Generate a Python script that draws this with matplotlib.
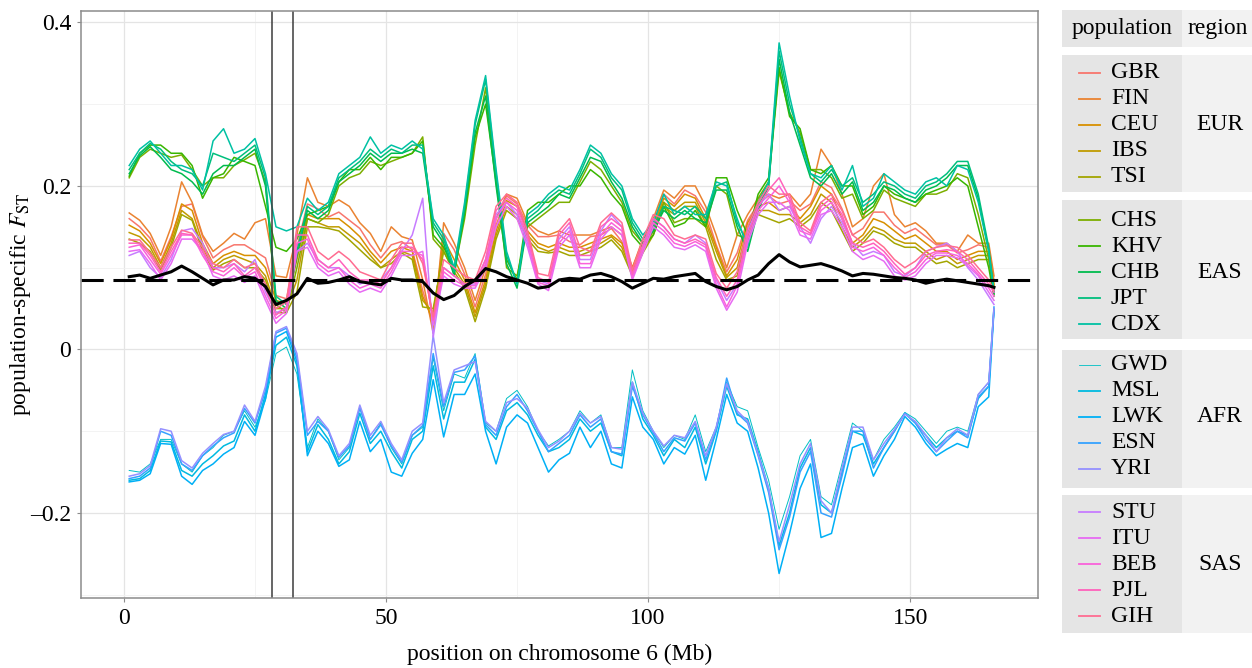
import matplotlib.pyplot as plt
from matplotlib.patches import Rectangle

plt.rcParams['font.family'] = 'Liberation Serif'
plt.rcParams['mathtext.fontset'] = 'stix'
plt.rcParams['lines.scale_dashes'] = False

# window centres along chromosome 6 (Mb)
pos_mb = [1, 3, 5, 7, 9, 11, 13, 15, 17, 19,
          21, 23, 25, 27, 29, 31, 33, 35, 37, 39,
          41, 43, 45, 47, 49, 51, 53, 55, 57, 59,
          61, 63, 65, 67, 69, 71, 73, 75, 77, 79,
          81, 83, 85, 87, 89, 91, 93, 95, 97, 99,
          101, 103, 105, 107, 109, 111, 113, 115, 117, 119,
          121, 123, 125, 127, 129, 131, 133, 135, 137, 139,
          141, 143, 145, 147, 149, 151, 153, 155, 157, 159,
          161, 163, 165, 166]

# EUR
gbr = [0.16, 0.15, 0.136, 0.108, 0.138, 0.175, 0.178, 0.138, 0.112, 0.122,
       0.128, 0.128, 0.12, 0.112, 0.066, 0.062, 0.125, 0.178, 0.172, 0.162,
       0.168, 0.158, 0.148, 0.128, 0.112, 0.128, 0.132, 0.122, 0.072, 0.03,
       0.142, 0.122, 0.092, 0.052, 0.092, 0.152, 0.188, 0.178, 0.152, 0.138,
       0.138, 0.14, 0.132, 0.128, 0.138, 0.14, 0.148, 0.132, 0.1, 0.13,
       0.152, 0.19, 0.178, 0.195, 0.188, 0.168, 0.128, 0.095, 0.118, 0.158,
       0.178, 0.188, 0.178, 0.182, 0.17, 0.178, 0.205, 0.198, 0.172, 0.14,
       0.148, 0.168, 0.168, 0.152, 0.142, 0.148, 0.138, 0.128, 0.128, 0.118,
       0.122, 0.128, 0.125, 0.085]
fin = [0.167, 0.158, 0.142, 0.115, 0.15, 0.205, 0.18, 0.14, 0.12, 0.13,
       0.142, 0.135, 0.155, 0.16, 0.09, 0.088, 0.14, 0.21, 0.18, 0.175,
       0.183, 0.175, 0.155, 0.142, 0.12, 0.15, 0.138, 0.134, 0.085, 0.02,
       0.155, 0.13, 0.1, 0.06, 0.1, 0.16, 0.19, 0.185, 0.155, 0.145,
       0.14, 0.145, 0.14, 0.14, 0.14, 0.145, 0.15, 0.14, 0.1, 0.135,
       0.16, 0.195, 0.185, 0.2, 0.2, 0.175, 0.14, 0.1, 0.14, 0.165,
       0.185, 0.19, 0.185, 0.19, 0.175, 0.19, 0.245, 0.225, 0.19, 0.15,
       0.16, 0.2, 0.215, 0.165, 0.15, 0.155, 0.145, 0.13, 0.13, 0.12,
       0.14, 0.13, 0.13, 0.09]
ceu = [0.152, 0.145, 0.13, 0.105, 0.135, 0.178, 0.17, 0.13, 0.105, 0.115,
       0.12, 0.115, 0.115, 0.1, 0.06, 0.056, 0.11, 0.165, 0.16, 0.16,
       0.16, 0.15, 0.138, 0.12, 0.106, 0.12, 0.125, 0.12, 0.065, 0.035,
       0.135, 0.11, 0.085, 0.045, 0.085, 0.145, 0.182, 0.175, 0.145, 0.13,
       0.125, 0.13, 0.125, 0.125, 0.13, 0.135, 0.14, 0.13, 0.095, 0.125,
       0.15, 0.185, 0.175, 0.19, 0.185, 0.16, 0.125, 0.09, 0.11, 0.155,
       0.175, 0.18, 0.17, 0.175, 0.16, 0.175, 0.2, 0.19, 0.16, 0.13,
       0.14, 0.16, 0.155, 0.145, 0.135, 0.14, 0.13, 0.12, 0.12, 0.11,
       0.115, 0.12, 0.12, 0.08]
ibs = [0.143, 0.138, 0.125, 0.1, 0.13, 0.17, 0.16, 0.125, 0.1, 0.11,
       0.115, 0.11, 0.105, 0.09, 0.05, 0.05, 0.085, 0.16, 0.155, 0.15,
       0.15, 0.14, 0.13, 0.115, 0.1, 0.11, 0.12, 0.115, 0.06, 0.045,
       0.125, 0.1, 0.08, 0.04, 0.08, 0.14, 0.175, 0.165, 0.14, 0.125,
       0.12, 0.125, 0.12, 0.12, 0.125, 0.13, 0.138, 0.125, 0.092, 0.12,
       0.145, 0.18, 0.17, 0.18, 0.18, 0.155, 0.12, 0.088, 0.1, 0.15,
       0.17, 0.17, 0.165, 0.165, 0.155, 0.165, 0.19, 0.18, 0.15, 0.125,
       0.135, 0.15, 0.145, 0.135, 0.13, 0.13, 0.12, 0.11, 0.115, 0.105,
       0.11, 0.115, 0.115, 0.078]
tsi = [0.135, 0.13, 0.12, 0.097, 0.125, 0.165, 0.158, 0.12, 0.097, 0.105,
       0.11, 0.1, 0.1, 0.085, 0.045, 0.045, 0.07, 0.15, 0.15, 0.148,
       0.145, 0.134, 0.122, 0.11, 0.1, 0.105, 0.118, 0.11, 0.052, 0.05,
       0.12, 0.095, 0.075, 0.034, 0.075, 0.135, 0.17, 0.16, 0.135, 0.12,
       0.118, 0.12, 0.115, 0.115, 0.12, 0.125, 0.134, 0.12, 0.09, 0.118,
       0.14, 0.175, 0.165, 0.175, 0.175, 0.15, 0.11, 0.085, 0.09, 0.145,
       0.165, 0.16, 0.155, 0.16, 0.15, 0.16, 0.18, 0.17, 0.145, 0.12,
       0.13, 0.145, 0.14, 0.13, 0.125, 0.125, 0.115, 0.105, 0.108, 0.1,
       0.105, 0.11, 0.11, 0.075]

# EAS
chs = [0.21, 0.235, 0.245, 0.24, 0.235, 0.238, 0.22, 0.2, 0.21, 0.21,
       0.225, 0.232, 0.24, 0.205, 0.055, 0.045, 0.1, 0.16, 0.155, 0.165,
       0.2, 0.21, 0.215, 0.23, 0.225, 0.23, 0.235, 0.24, 0.26, 0.135,
       0.12, 0.095, 0.16, 0.25, 0.32, 0.21, 0.1, 0.09, 0.15, 0.16,
       0.17, 0.18, 0.18, 0.205, 0.23, 0.22, 0.2, 0.18, 0.145, 0.13,
       0.145, 0.18, 0.155, 0.16, 0.16, 0.15, 0.2, 0.19, 0.14, 0.135,
       0.185, 0.205, 0.34, 0.29, 0.265, 0.22, 0.22, 0.21, 0.185, 0.19,
       0.16, 0.17, 0.195, 0.185, 0.18, 0.175, 0.19, 0.19, 0.195, 0.215,
       0.21, 0.165, 0.11, 0.068]
khv = [0.212, 0.24, 0.25, 0.25, 0.24, 0.24, 0.225, 0.185, 0.21, 0.215,
       0.235, 0.23, 0.225, 0.175, 0.125, 0.12, 0.135, 0.165, 0.17, 0.175,
       0.205, 0.22, 0.22, 0.235, 0.22, 0.235, 0.235, 0.24, 0.255, 0.14,
       0.125, 0.1, 0.165, 0.26, 0.3, 0.205, 0.11, 0.085, 0.17, 0.18,
       0.18, 0.19, 0.2, 0.2, 0.22, 0.21, 0.19, 0.175, 0.14, 0.125,
       0.14, 0.175, 0.15, 0.155, 0.17, 0.15, 0.21, 0.21, 0.17, 0.14,
       0.19, 0.21, 0.345, 0.285, 0.27, 0.22, 0.215, 0.225, 0.2, 0.2,
       0.165, 0.175, 0.2, 0.19, 0.185, 0.18, 0.19, 0.195, 0.2, 0.21,
       0.2, 0.15, 0.1, 0.065]
chb = [0.215, 0.237, 0.248, 0.235, 0.22, 0.215, 0.205, 0.19, 0.215, 0.225,
       0.225, 0.235, 0.245, 0.2, 0.06, 0.05, 0.115, 0.17, 0.16, 0.17,
       0.205, 0.215, 0.225, 0.24, 0.23, 0.24, 0.24, 0.245, 0.24, 0.15,
       0.13, 0.09, 0.17, 0.265, 0.31, 0.2, 0.105, 0.075, 0.155, 0.165,
       0.175, 0.19, 0.185, 0.21, 0.235, 0.23, 0.205, 0.185, 0.15, 0.13,
       0.145, 0.17, 0.16, 0.17, 0.16, 0.155, 0.195, 0.195, 0.15, 0.12,
       0.17, 0.2, 0.355, 0.29, 0.25, 0.21, 0.2, 0.215, 0.19, 0.205,
       0.17, 0.18, 0.2, 0.195, 0.185, 0.18, 0.195, 0.2, 0.21, 0.225,
       0.225, 0.185, 0.12, 0.068]
jpt = [0.22, 0.24, 0.252, 0.245, 0.23, 0.22, 0.215, 0.2, 0.24, 0.235,
       0.23, 0.24, 0.25, 0.21, 0.065, 0.055, 0.12, 0.175, 0.165, 0.175,
       0.21, 0.22, 0.23, 0.245, 0.235, 0.245, 0.24, 0.25, 0.25, 0.155,
       0.135, 0.095, 0.175, 0.275, 0.33, 0.215, 0.115, 0.08, 0.16, 0.17,
       0.185, 0.195, 0.19, 0.215, 0.245, 0.235, 0.21, 0.195, 0.155, 0.135,
       0.15, 0.175, 0.17, 0.165, 0.175, 0.16, 0.2, 0.205, 0.155, 0.13,
       0.175, 0.2, 0.365, 0.3, 0.26, 0.215, 0.205, 0.22, 0.2, 0.21,
       0.18, 0.19, 0.205, 0.2, 0.19, 0.185, 0.2, 0.205, 0.215, 0.23,
       0.23, 0.19, 0.125, 0.07]
cdx = [0.225, 0.245, 0.255, 0.24, 0.225, 0.225, 0.22, 0.195, 0.255, 0.27,
       0.24, 0.245, 0.258, 0.215, 0.15, 0.145, 0.15, 0.185, 0.17, 0.18,
       0.215, 0.225, 0.235, 0.26, 0.24, 0.25, 0.245, 0.255, 0.245, 0.16,
       0.14, 0.1, 0.18, 0.28, 0.335, 0.22, 0.12, 0.08, 0.165, 0.175,
       0.19, 0.2, 0.195, 0.22, 0.25, 0.24, 0.215, 0.2, 0.16, 0.14,
       0.155, 0.19, 0.165, 0.175, 0.165, 0.165, 0.205, 0.2, 0.16, 0.125,
       0.18, 0.205, 0.375, 0.31, 0.255, 0.215, 0.21, 0.225, 0.195, 0.225,
       0.175, 0.185, 0.215, 0.205, 0.195, 0.19, 0.205, 0.21, 0.2, 0.225,
       0.22, 0.18, 0.12, 0.07]

# AFR
gwd = [-0.148, -0.15, -0.14, -0.11, -0.11, -0.14, -0.15, -0.13, -0.12, -0.105,
       -0.1, -0.075, -0.095, -0.062, -0.005, 0.003, -0.03, -0.12, -0.085, -0.1,
       -0.135, -0.12, -0.07, -0.11, -0.09, -0.12, -0.14, -0.105, -0.095, -0.01,
       -0.075, -0.03, -0.035, -0.005, -0.09, -0.1, -0.06, -0.05, -0.07, -0.1,
       -0.118, -0.11, -0.1, -0.075, -0.09, -0.08, -0.12, -0.12, -0.025, -0.075,
       -0.1, -0.12, -0.105, -0.11, -0.08, -0.125, -0.095, -0.04, -0.07, -0.075,
       -0.12, -0.16, -0.22, -0.18, -0.13, -0.11, -0.18, -0.19, -0.14, -0.09,
       -0.1, -0.135, -0.11, -0.095, -0.077, -0.085, -0.1, -0.115, -0.1, -0.095,
       -0.1, -0.055, -0.04, 0.045]
msl = [-0.16, -0.158, -0.148, -0.112, -0.113, -0.148, -0.155, -0.14, -0.13, -0.118,
       -0.112, -0.08, -0.1, -0.055, 0.005, 0.015, -0.02, -0.125, -0.092, -0.11,
       -0.14, -0.125, -0.078, -0.115, -0.1, -0.125, -0.145, -0.11, -0.1, -0.02,
       -0.085, -0.04, -0.04, -0.012, -0.095, -0.11, -0.075, -0.065, -0.08, -0.105,
       -0.125, -0.12, -0.11, -0.085, -0.1, -0.09, -0.125, -0.13, -0.04, -0.085,
       -0.105, -0.13, -0.11, -0.12, -0.095, -0.14, -0.1, -0.045, -0.08, -0.085,
       -0.125, -0.17, -0.24, -0.2, -0.145, -0.12, -0.19, -0.2, -0.15, -0.1,
       -0.105, -0.14, -0.12, -0.1, -0.078, -0.09, -0.105, -0.12, -0.108, -0.1,
       -0.105, -0.06, -0.045, 0.05]
lwk = [-0.162, -0.16, -0.152, -0.115, -0.116, -0.155, -0.165, -0.148, -0.14, -0.128,
       -0.12, -0.088, -0.105, -0.06, 0.015, 0.022, -0.015, -0.13, -0.1, -0.115,
       -0.143, -0.135, -0.088, -0.125, -0.11, -0.15, -0.155, -0.127, -0.11, -0.037,
       -0.107, -0.055, -0.055, -0.03, -0.1, -0.14, -0.095, -0.08, -0.09, -0.12,
       -0.15, -0.135, -0.127, -0.095, -0.12, -0.1, -0.14, -0.145, -0.058, -0.095,
       -0.11, -0.14, -0.12, -0.128, -0.105, -0.16, -0.11, -0.055, -0.09, -0.1,
       -0.145, -0.2, -0.274, -0.225, -0.17, -0.14, -0.23, -0.225, -0.17, -0.12,
       -0.115, -0.155, -0.13, -0.11, -0.082, -0.095, -0.115, -0.13, -0.122, -0.115,
       -0.12, -0.07, -0.058, 0.048]
esn = [-0.158, -0.155, -0.145, -0.1, -0.105, -0.14, -0.148, -0.13, -0.118, -0.108,
       -0.102, -0.072, -0.09, -0.05, 0.02, 0.026, -0.01, -0.105, -0.088, -0.1,
       -0.132, -0.118, -0.072, -0.11, -0.092, -0.118, -0.138, -0.105, -0.093, -0.005,
       -0.07, -0.028, -0.025, -0.008, -0.092, -0.105, -0.07, -0.055, -0.075, -0.1,
       -0.125, -0.115, -0.105, -0.08, -0.095, -0.085, -0.125, -0.128, -0.045, -0.08,
       -0.102, -0.125, -0.108, -0.112, -0.09, -0.135, -0.098, -0.035, -0.078, -0.09,
       -0.13, -0.175, -0.245, -0.205, -0.15, -0.125, -0.2, -0.205, -0.155, -0.1,
       -0.1, -0.145, -0.12, -0.1, -0.078, -0.09, -0.11, -0.125, -0.112, -0.1,
       -0.108, -0.058, -0.045, 0.052]
yri = [-0.155, -0.152, -0.142, -0.097, -0.1, -0.136, -0.145, -0.127, -0.115, -0.104,
       -0.1, -0.068, -0.088, -0.045, 0.022, 0.028, -0.005, -0.1, -0.082, -0.098,
       -0.13, -0.115, -0.068, -0.105, -0.088, -0.115, -0.135, -0.1, -0.09, 0.017,
       -0.065, -0.025, -0.02, -0.015, -0.088, -0.1, -0.065, -0.06, -0.072, -0.098,
       -0.12, -0.112, -0.1, -0.078, -0.09, -0.082, -0.12, -0.122, -0.04, -0.078,
       -0.1, -0.118, -0.105, -0.108, -0.088, -0.13, -0.095, -0.042, -0.075, -0.088,
       -0.128, -0.17, -0.235, -0.19, -0.14, -0.115, -0.185, -0.2, -0.145, -0.095,
       -0.095, -0.135, -0.115, -0.098, -0.079, -0.088, -0.105, -0.125, -0.108, -0.097,
       -0.105, -0.055, -0.04, 0.05]

# SAS
stu = [0.115, 0.12, 0.1, 0.088, 0.11, 0.145, 0.148, 0.13, 0.1, 0.1,
       0.105, 0.095, 0.11, 0.07, 0.045, 0.05, 0.12, 0.13, 0.11, 0.1,
       0.1, 0.09, 0.08, 0.085, 0.085, 0.1, 0.12, 0.14, 0.185, 0.015,
       0.1, 0.09, 0.08, 0.08, 0.11, 0.165, 0.18, 0.165, 0.13, 0.085,
       0.08, 0.135, 0.15, 0.11, 0.11, 0.145, 0.165, 0.15, 0.09, 0.125,
       0.16, 0.15, 0.135, 0.13, 0.14, 0.13, 0.085, 0.06, 0.08, 0.145,
       0.175, 0.19, 0.17, 0.175, 0.15, 0.13, 0.16, 0.175, 0.155, 0.13,
       0.115, 0.12, 0.115, 0.095, 0.09, 0.1, 0.12, 0.125, 0.13, 0.12,
       0.1, 0.085, 0.065, 0.055]
itu = [0.12, 0.122, 0.105, 0.085, 0.105, 0.135, 0.135, 0.12, 0.09, 0.085,
       0.09, 0.082, 0.09, 0.06, 0.032, 0.044, 0.12, 0.125, 0.1, 0.09,
       0.095, 0.08, 0.07, 0.075, 0.07, 0.09, 0.115, 0.115, 0.12, 0.03,
       0.09, 0.08, 0.075, 0.075, 0.1, 0.15, 0.175, 0.16, 0.125, 0.08,
       0.072, 0.125, 0.14, 0.1, 0.1, 0.135, 0.15, 0.14, 0.085, 0.118,
       0.15, 0.14, 0.125, 0.122, 0.128, 0.12, 0.075, 0.048, 0.07, 0.13,
       0.165, 0.18, 0.18, 0.17, 0.14, 0.135, 0.165, 0.17, 0.15, 0.12,
       0.11, 0.115, 0.108, 0.09, 0.085, 0.09, 0.105, 0.115, 0.115, 0.112,
       0.102, 0.09, 0.07, 0.06]
beb = [0.125, 0.128, 0.11, 0.092, 0.115, 0.14, 0.14, 0.115, 0.095, 0.09,
       0.1, 0.088, 0.095, 0.065, 0.038, 0.048, 0.13, 0.135, 0.105, 0.095,
       0.1, 0.085, 0.075, 0.08, 0.075, 0.095, 0.12, 0.12, 0.115, 0.035,
       0.095, 0.085, 0.078, 0.078, 0.105, 0.16, 0.18, 0.17, 0.135, 0.082,
       0.078, 0.13, 0.145, 0.105, 0.105, 0.14, 0.155, 0.145, 0.088, 0.122,
       0.155, 0.145, 0.13, 0.126, 0.132, 0.125, 0.08, 0.052, 0.078, 0.135,
       0.17, 0.185, 0.2, 0.18, 0.145, 0.14, 0.17, 0.18, 0.16, 0.125,
       0.12, 0.125, 0.115, 0.1, 0.088, 0.095, 0.11, 0.118, 0.118, 0.115,
       0.105, 0.092, 0.075, 0.065]
pjl = [0.13, 0.13, 0.115, 0.095, 0.12, 0.142, 0.14, 0.12, 0.1, 0.095,
       0.105, 0.09, 0.1, 0.075, 0.042, 0.052, 0.14, 0.14, 0.11, 0.1,
       0.11, 0.095, 0.085, 0.085, 0.08, 0.1, 0.125, 0.125, 0.11, 0.036,
       0.1, 0.09, 0.08, 0.082, 0.11, 0.17, 0.185, 0.175, 0.14, 0.088,
       0.082, 0.14, 0.155, 0.115, 0.115, 0.15, 0.16, 0.15, 0.092, 0.128,
       0.16, 0.15, 0.135, 0.13, 0.135, 0.128, 0.088, 0.065, 0.085, 0.14,
       0.175, 0.195, 0.21, 0.185, 0.15, 0.142, 0.175, 0.185, 0.165, 0.13,
       0.125, 0.13, 0.12, 0.105, 0.092, 0.1, 0.115, 0.12, 0.122, 0.12,
       0.11, 0.095, 0.08, 0.07]
gih = [0.134, 0.134, 0.118, 0.1, 0.125, 0.146, 0.142, 0.125, 0.105, 0.1,
       0.11, 0.1, 0.105, 0.08, 0.05, 0.058, 0.15, 0.15, 0.12, 0.11,
       0.12, 0.11, 0.095, 0.09, 0.085, 0.11, 0.13, 0.13, 0.105, 0.04,
       0.11, 0.1, 0.09, 0.085, 0.12, 0.175, 0.19, 0.18, 0.145, 0.093,
       0.09, 0.145, 0.16, 0.125, 0.12, 0.155, 0.167, 0.155, 0.097, 0.135,
       0.165, 0.16, 0.14, 0.135, 0.14, 0.135, 0.093, 0.075, 0.095, 0.15,
       0.18, 0.2, 0.19, 0.19, 0.155, 0.145, 0.18, 0.19, 0.17, 0.14,
       0.13, 0.135, 0.125, 0.11, 0.1, 0.108, 0.12, 0.125, 0.127, 0.125,
       0.115, 0.1, 0.085, 0.072]

# mean over all populations
mean_fst = [0.089, 0.091, 0.087, 0.091, 0.095, 0.102, 0.095, 0.087, 0.079, 0.085,
            0.085, 0.089, 0.087, 0.077, 0.055, 0.06, 0.068, 0.087, 0.081, 0.082,
            0.085, 0.089, 0.083, 0.081, 0.079, 0.087, 0.085, 0.085, 0.083, 0.069,
            0.061, 0.066, 0.077, 0.085, 0.099, 0.095, 0.089, 0.085, 0.081, 0.075,
            0.077, 0.085, 0.087, 0.086, 0.091, 0.093, 0.089, 0.083, 0.075, 0.081,
            0.087, 0.086, 0.089, 0.091, 0.093, 0.083, 0.077, 0.073, 0.077, 0.085,
            0.091, 0.105, 0.116, 0.107, 0.101, 0.103, 0.105, 0.101, 0.096, 0.09,
            0.093, 0.092, 0.09, 0.088, 0.087, 0.085, 0.081, 0.084, 0.086, 0.084,
            0.082, 0.08, 0.078, 0.076]

genome_mean = 0.085
mhc_bounds = [28.3, 32.3]

regions = ['EUR', 'EAS', 'AFR', 'SAS']
region_pops = [['GBR', 'FIN', 'CEU', 'IBS', 'TSI'],
               ['CHS', 'KHV', 'CHB', 'JPT', 'CDX'],
               ['GWD', 'MSL', 'LWK', 'ESN', 'YRI'],
               ['STU', 'ITU', 'BEB', 'PJL', 'GIH']]
pop_values = [gbr, fin, ceu, ibs, tsi, chs, khv, chb, jpt, cdx,
              gwd, msl, lwk, esn, yri, stu, itu, beb, pjl, gih]
# ggplot2 default hue palette, 20 levels
pop_colors = ['#F8766D', '#EA8331', '#D89000', '#C09B00', '#A3A500',
              '#7CAE00', '#39B600', '#00BB4E', '#00BF7D', '#00C1A3',
              '#00BFC4', '#00BAE0', '#00B0F6', '#35A2FF', '#9590FF',
              '#C77CFF', '#E76BF3', '#FA62DB', '#FF62BC', '#FF6C91']
pop_names = [p for grp in region_pops for p in grp]

fig = plt.figure(figsize=(12.52, 6.68), dpi=100)
ax = fig.add_axes([81 / 1252, 70 / 668, 957 / 1252, 587 / 668])

for name, vals, col in zip(pop_names, pop_values, pop_colors):
    ax.plot(pos_mb, vals, color=col, lw=0.7 if name == 'GWD' else 1.1)

for b in mhc_bounds:
    ax.axvline(b, color='#3c3c3c', lw=1.1)

ax.plot(pos_mb, mean_fst, color='black', lw=2.2, solid_joinstyle='round')
ax.axhline(genome_mean, color='black', lw=2.2, dashes=(16, 7))

ax.set_xlim(-8.2, 174.4)
ax.set_ylim(-0.304, 0.414)
ax.set_xticks([0, 50, 100, 150])
ax.set_xticks([25, 75, 125], minor=True)
ax.set_yticks([-0.2, 0, 0.2, 0.4])
ax.set_yticklabels(['\u20130.2', '0', '0.2', '0.4'])
ax.set_yticks([-0.3, -0.1, 0.1, 0.3], minor=True)
ax.grid(which='major', color='#E4E4E4', lw=0.9)
ax.grid(which='minor', color='#F1F1F1', lw=0.6)
ax.set_axisbelow(True)
ax.tick_params(which='major', length=3, width=0.8, color='#8C8C8C',
               labelsize=17, pad=4, labelcolor='black')
ax.tick_params(which='minor', length=0)
for sp in ax.spines.values():
    sp.set_color('#8C8C8C')
    sp.set_linewidth(1.1)

ax.set_xlabel('position on chromosome 6 (Mb)', fontsize=17, labelpad=11)
ax.set_ylabel(r'population-specific $F_{\mathrm{ST}}$', fontsize=17)
ax.yaxis.set_label_coords(-0.05, 0.5)

# legend table drawn in pixel coordinates
lax = fig.add_axes([1055 / 1252, 0, 197 / 1252, 1])
lax.set_xlim(1055, 1252)
lax.set_ylim(668, 0)
lax.axis('off')

pop_bg = '#E5E5E5'
reg_bg = '#F2F2F2'
lax.add_patch(Rectangle((1062, 10), 120, 37, fc=pop_bg, ec='none'))
lax.add_patch(Rectangle((1182, 10), 70, 37, fc=reg_bg, ec='none'))
lax.text(1122, 28.5, 'population', ha='center', va='center', fontsize=17)
lax.text(1218, 28.5, 'region', ha='center', va='center', fontsize=17)

group_tops = [55, 200, 350, 495]
group_bottoms = [192, 339, 488, 633]
first_rows = [73, 220, 365, 512]
k = 0
for reg, pops, top, bot, y0 in zip(regions, region_pops, group_tops,
                                   group_bottoms, first_rows):
    lax.add_patch(Rectangle((1062, top), 120, bot - top, fc=pop_bg, ec='none'))
    lax.add_patch(Rectangle((1182, top), 70, bot - top, fc=reg_bg, ec='none'))
    for j, p in enumerate(pops):
        yy = y0 + j * 26
        lax.plot([1079, 1100], [yy, yy], color=pop_colors[k],
                 lw=0.6 if p == 'GWD' else 1.3)
        lax.text(1111, yy, p, ha='left', va='center', fontsize=17)
        k += 1
    lax.text(1220, y0 + 2 * 26, reg, ha='center', va='center', fontsize=17)

fig.savefig('out.png', dpi=100)
